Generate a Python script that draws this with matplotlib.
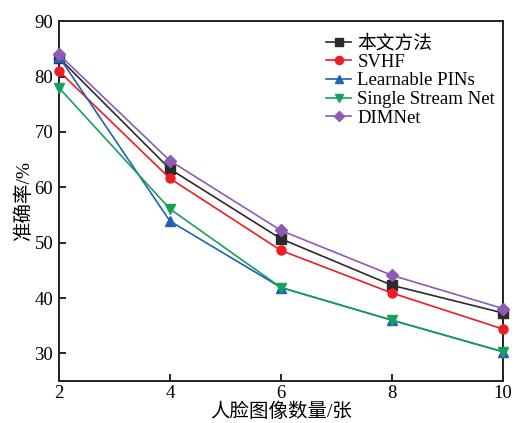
import matplotlib
matplotlib.use("Agg")
import matplotlib.pyplot as plt

# data
x = [2, 4, 6, 8, 10]
ours = [83.4, 63.3, 50.7, 42.3, 37.3]
svhf = [81.0, 61.6, 48.6, 40.9, 34.4]
pins = [83.6, 53.9, 41.9, 36.0, 30.3]
ssnet = [78.0, 56.1, 41.9, 36.0, 30.3]
dimnet = [84.0, 64.8, 52.2, 44.1, 38.1]

names = ["本文方法", "SVHF", "Learnable PINs", "Single Stream Net", "DIMNet"]
series = [ours, svhf, pins, ssnet, dimnet]
colors = ["#2b2b2b", "#ee1c25", "#1f62b4", "#18a05a", "#8c5cb4"]
markers = ["s", "o", "^", "v", "D"]

fam = ["Liberation Serif", "Noto Sans CJK SC"]
plt.rcParams["font.family"] = fam
plt.rcParams["font.size"] = 13

fig = plt.figure(figsize=(5.16, 4.23), dpi=100)
ax = fig.add_axes([0.114, 0.099, 0.861, 0.851])

for ys, name, c, m in zip(series, names, colors, markers):
    ms = 6.5 if m != "D" else 6
    ax.plot(x, ys, color=c, marker=m, markersize=ms, linewidth=1.2,
            label=name, clip_on=False, zorder=3)

ax.set_xlim(2, 10)
ax.set_ylim(25, 90)
ax.set_xticks([2, 4, 6, 8, 10])
ax.set_yticks([30, 40, 50, 60, 70, 80, 90])
ax.tick_params(direction="in", length=5, width=1.2, labelsize=13.5)
ax.tick_params(axis="x", pad=3)
ax.tick_params(axis="y", pad=4)
for s in ax.spines.values():
    s.set_linewidth(1.4)
    s.set_color("#222222")

ax.set_xlabel("人脸图像数量/张", fontsize=14, labelpad=0)
ax.set_ylabel("准确率/%", fontsize=14, labelpad=1)

leg = ax.legend(loc="upper right", frameon=False, fontsize=13.5,
                handlelength=1.3, handletextpad=0.35, labelspacing=0.08,
                bbox_to_anchor=(1.02, 1.01), markerscale=0.9)

fig.savefig("out.png", dpi=100)
